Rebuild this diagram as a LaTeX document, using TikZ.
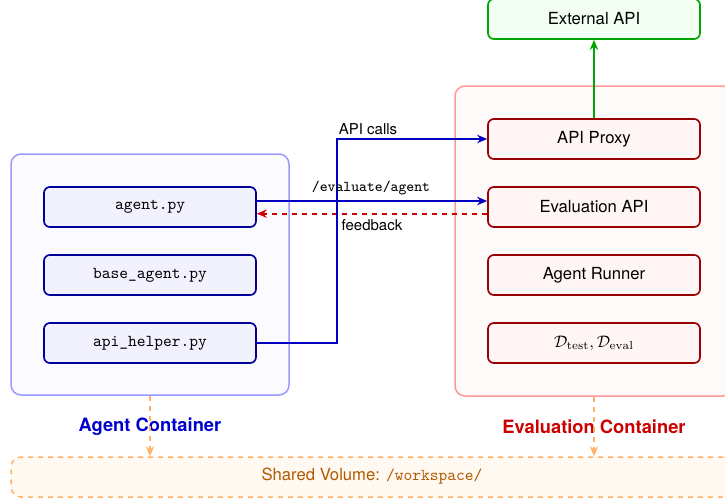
\documentclass[tikz,border=0pt]{standalone}
\usepackage{fontspec}
\setsansfont{TeX Gyre Heros}
\usetikzlibrary{arrows.meta,fit}

\begin{document}
\begin{tikzpicture}[x=0.6pt,y=-0.6pt,font=\sffamily,
	agentcont/.style={draw=blue!40,fill=blue!2,line width=0.9pt,rounded corners=6pt,inner sep=0pt},
	evalcont/.style={draw=red!40,fill=red!2,line width=0.9pt,rounded corners=6pt,inner sep=0pt},
	sharedbox/.style={draw=orange!60,fill=orange!5,line width=0.9pt,dashed,rounded corners=6pt,inner sep=0pt},
	filebox/.style={draw=blue!60!black,fill=blue!5,line width=1pt,rounded corners=3.5pt,minimum width=127.2pt,minimum height=24pt,font=\ttfamily},
	evalbox/.style={draw=red!60!black,fill=red!4,line width=1pt,rounded corners=3.5pt,minimum width=127.2pt,minimum height=24pt},
	extbox/.style={draw=green!65!black,fill=green!5,line width=1pt,rounded corners=3.5pt,minimum width=127.2pt,minimum height=24pt},
	contlabel/.style={font=\sffamily\bfseries\fontsize{11}{13}\selectfont},
	calllabel/.style={font=\sffamily\small},
	callarrow/.style={color=blue!75!black,line width=1pt,-{Stealth[length=6pt,width=5pt]}},
	backarrow/.style={color=red!80!black,line width=1pt,dashed,-{Stealth[length=6pt,width=5pt]}},
	mountarrow/.style={color=orange!60,line width=0.9pt,dashed,-{Stealth[length=6pt,width=5pt]}}]
				\useasboundingbox (0,0) rectangle (725,498);
				\node[agentcont, fit={(11,154) (289,395)}] (agentc) {};
				\node[evalcont, fit={(455,86) (733,396)}] (evalc) {};
				\node[sharedbox, fit={(11,457) (733,497)}] (shared) {};
				\node[orange!70!black] (sharedtext) at (372,476) {Shared Volume: \texttt{/workspace/}};
				\node[filebox] (agent) at (150,207) {agent.py};
				\node[filebox] (base) at (150,275) {base\_agent.py};
				\node[filebox] (helper) at (150,343) {api\_helper.py};
				\node[extbox] (ext) at (594,19) {External API};
				\node[evalbox] (proxy) at (594,139) {API Proxy};
				\node[evalbox] (evalapi) at (594,207) {Evaluation API};
				\node[evalbox] (runner) at (594,275) {Agent Runner};
				\node[evalbox] (data) at (594,343) {$\mathcal{D}_{\mathrm{test}}, \mathcal{D}_{\mathrm{eval}}$};
				\node[contlabel, blue!80!black] (agentlbl) at (150,427) {Agent Container};
				\node[contlabel, red!80!black] (evallbl) at (594,427) {Evaluation Container};
				\draw[callarrow] ([yshift=3.6pt]agent.east) -- ([yshift=3.6pt]evalapi.west);
				\draw[backarrow] ([yshift=-4pt]evalapi.west) -- ([yshift=-4pt]agent.east);
				\draw[callarrow] (helper.east) -- ++(48pt,0) |- (proxy.west);
				\draw[green!65!black,line width=1pt,-{Stealth[length=6pt,width=5pt]}] (proxy.north) -- (ext.south);
				\draw[mountarrow] (agentc.south) -- (agentc.south |- shared.north);
				\draw[mountarrow] (evalc.south -| evalapi) -- (evalapi |- shared.north);
				\node[calllabel] (calls) at (368,129) {API calls};
				\node[font=\ttfamily\small] (route) at (371,188) {/evaluate/agent};
				\node[calllabel] (fb) at (372,225) {feedback};
			\end{tikzpicture}
\end{document}
